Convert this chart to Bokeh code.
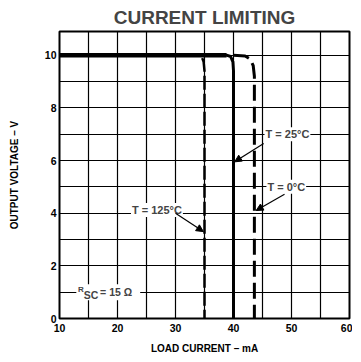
from bokeh.plotting import figure
from bokeh.models import Range1d, FixedTicker, Label, Arrow, NormalHead
from bokeh.embed import file_html
from bokeh.resources import INLINE

# ---- data ----
x_ticks = [10, 20, 30, 40, 50, 60]
y_ticks = [0, 2, 4, 6, 8, 10]
x_grid = [15, 20, 25, 30, 35, 40, 45, 50, 55]
y_grid = [1, 2, 3, 4, 5, 6, 7, 8, 9, 10]

cur_125 = [10, 33.8, 34.5, 34.85, 35.0, 35.0]
v_125 = [10, 10, 9.95, 9.75, 9.4, 0]

cur_25 = [10, 38.8, 39.5, 39.9, 40.0, 40.0]
v_25 = [10, 10, 9.95, 9.75, 9.4, 0]

cur_0 = [40.0, 42.0, 42.9, 43.4, 43.6, 43.6]
v_0 = [10, 9.97, 9.85, 9.6, 9.2, 0]

FONT = "Liberation Sans"

p = figure(frame_width=290, frame_height=287, output_backend="svg",
           toolbar_location=None,
           x_range=Range1d(10, 60), y_range=Range1d(0, 10.9),
           min_border_left=59, min_border_right=3, min_border_top=25,
           min_border_bottom=35)

p.title.text = "CURRENT LIMITING"
p.title.align = "center"
p.title.text_font = FONT
p.title.text_font_style = "bold"
p.title.text_font_size = "19px"
p.title.standoff = 8

p.outline_line_color = "black"
p.outline_line_width = 2

for ax in (p.xaxis[0], p.yaxis[0]):
    ax.axis_line_color = None
    ax.major_tick_line_color = None
    ax.minor_tick_line_color = None
    ax.major_tick_out = 0
    ax.major_tick_in = 0
    ax.minor_tick_out = 0
    ax.minor_tick_in = 0
    ax.major_label_text_font = FONT
    ax.major_label_text_font_style = "bold"
    ax.major_label_text_font_size = "10.5px"
    ax.major_label_text_color = "black"
    ax.axis_label_text_font = FONT
    ax.axis_label_text_font_style = "bold"
    ax.axis_label_text_font_size = "10px"
    ax.axis_label_text_color = "black"

p.xaxis.ticker = FixedTicker(ticks=x_ticks)
p.yaxis.ticker = FixedTicker(ticks=y_ticks)
p.xaxis.axis_label = "LOAD CURRENT – mA"
p.yaxis.axis_label = "OUTPUT VOLTAGE – V"
p.xaxis.major_label_standoff = 5
p.xaxis.axis_label_standoff = 8
p.yaxis.major_label_standoff = 3
p.yaxis.axis_label_standoff = 22

p.xgrid.ticker = FixedTicker(ticks=x_grid)
p.ygrid.ticker = FixedTicker(ticks=y_grid)
p.xgrid.grid_line_color = "black"
p.ygrid.grid_line_color = "black"
p.xgrid.grid_line_alpha = 1.0
p.ygrid.grid_line_alpha = 1.0
p.xgrid.grid_line_width = 1.2
p.ygrid.grid_line_width = 1.2

# curves
p.line(cur_125, v_125, line_color="black", line_width=2.5, line_dash="14 4")
p.line(cur_0, v_0, line_color="black", line_width=3, line_dash="16 6")
p.line(cur_25, v_25, line_color="black", line_width=3)
p.line([10, 38.8], [10, 10], line_color="black", line_width=4.5)

# labels
def lab(x, y, t, size="11px"):
    p.add_layout(Label(x=x, y=y, text=t, text_font=FONT, text_font_style="bold",
                       text_font_size=size, text_align="center",
                       text_baseline="middle", background_fill_color="white",
                       background_fill_alpha=1.0, padding=1))

lab(49.3, 7.0, "T = 25°C")
lab(49.1, 5.0, "T = 0°C")
lab(26.8, 4.12, "T = 125°C")

head = dict(size=7, fill_color="black", line_color="black")
p.add_layout(Arrow(end=NormalHead(**head), x_start=45.2, y_start=6.65,
                   x_end=40.2, y_end=5.95, line_width=1.2))
p.add_layout(Arrow(end=NormalHead(**head), x_start=48.8, y_start=4.72,
                   x_end=43.9, y_end=4.1, line_width=1.2))
p.add_layout(Arrow(end=NormalHead(**head), x_start=30.0, y_start=4.0,
                   x_end=34.8, y_end=3.3, line_width=1.2))

# R_SC = 15 Ω
p.add_layout(Label(x=12.9, y=1.0, text="RSC = 15 Ω", text_color="white",
                   text_font=FONT, text_font_style="bold", text_font_size="11px",
                   text_baseline="middle", background_fill_color="white",
                   padding=2))
p.add_layout(Label(x=13.2, y=1.12, text="R", text_font=FONT, text_font_style="bold",
                   text_font_size="8px", text_baseline="middle"))
p.add_layout(Label(x=14.2, y=0.88, text="SC", text_font=FONT, text_font_style="bold",
                   text_font_size="10.5px", text_baseline="middle"))
p.add_layout(Label(x=17.0, y=1.0, text="= 15 Ω", text_font=FONT, text_font_style="bold",
                   text_font_size="10.5px", text_baseline="middle"))

open("out.html", "w").write(file_html(p, INLINE))
